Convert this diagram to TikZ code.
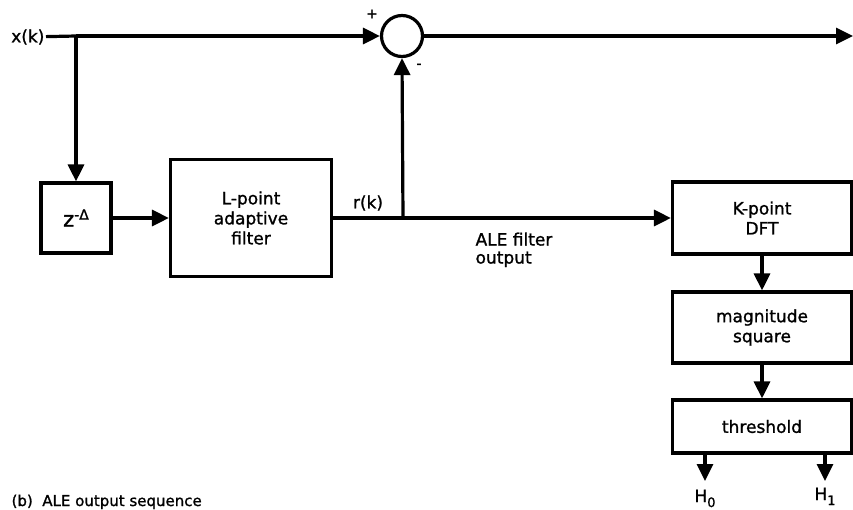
\documentclass[tikz,border=0pt]{standalone}
\usepackage{fontspec}
\setmainfont{DejaVu Sans}[FakeBold=1.2]
\usetikzlibrary{arrows.meta}
\begin{document}
\begin{tikzpicture}[x=1pt,y=-1pt,line width=3.2pt,
  arr/.style={-{Triangle[width=16pt,length=17pt]}},
  blk/.style={draw,rectangle,inner sep=0pt,align=center,font=\fontsize{17}{20}\selectfont},
  lbl/.style={inner sep=0pt,font=\fontsize{17}{20}\selectfont},
  sgn/.style={inner sep=0pt,font=\fontsize{14}{14}\selectfont}]
\useasboundingbox (0,0) rectangle (853,509);
\clip (0,0) rectangle (853,509);
% nodes
\node[lbl,anchor=east] (x) at (46,37) {x(k)};
\coordinate (j1) at (76,36);
\node[draw,circle,minimum size=41pt,inner sep=0pt] (sum) at (402,36) {};
\coordinate (out) at (853,36);
\node[sgn] (plus) at (372,14) {+};
\node[sgn] (minus) at (419,66) {-};
\node[blk,minimum width=70pt,minimum height=70pt] (z) at (76,218)
  {\fontsize{21}{21}\selectfont z\raisebox{7pt}{\fontsize{14}{14}\selectfont -Δ}};
\node[blk,minimum width=161pt,minimum height=117pt] (L) at (251,218) {L-point\\adaptive\\filter};
\node[lbl] (r) at (368,203) {r(k)};
\coordinate (j2) at (403,218);
\node[lbl,anchor=north west,align=left,font=\fontsize{17}{18}\selectfont] (ale) at (474,231) {ALE filter\\output};
\node[blk,minimum width=179pt,minimum height=72pt] (dft) at (762,218) {K-point\\DFT};
\node[blk,minimum width=179pt,minimum height=71pt] (mag) at (762,327.5) {magnitude\\square};
\node[blk,minimum width=179pt,minimum height=53pt] (thr) at (762,426.5) {threshold};
\coordinate (a0) at (705,481);
\coordinate (a1) at (825,481);
\node[lbl,anchor=base] (h0) at (705,502) {H\raisebox{-5pt}{\fontsize{13}{13}\selectfont 0}};
\node[lbl,anchor=base] (h1) at (825,500) {H\raisebox{-5pt}{\fontsize{13}{13}\selectfont 1}};
\node[inner sep=0pt,anchor=base west,font=\fontsize{15}{15}\selectfont] (cap) at (10,506) {(b)\ \ ALE output sequence};
% connectors
\draw (x) -- (j1);
\draw[arr] (j1) -- (sum.west);
\draw[arr] (sum.east) -- (out);
\draw[arr] (j1) -- (z.north);
\draw[arr] (z.east) -- (L.west);
\draw (L.east) -- (j2);
\draw[arr] (j2) -- (dft.west);
\draw[arr] (j2) -- (sum.south);
\draw[arr] (dft.south) -- (mag.north);
\draw[arr] (mag.south) -- (thr.north);
\draw[arr] (thr.south -| a0) -- (a0);
\draw[arr] (thr.south -| a1) -- (a1);
\end{tikzpicture}
\end{document}
